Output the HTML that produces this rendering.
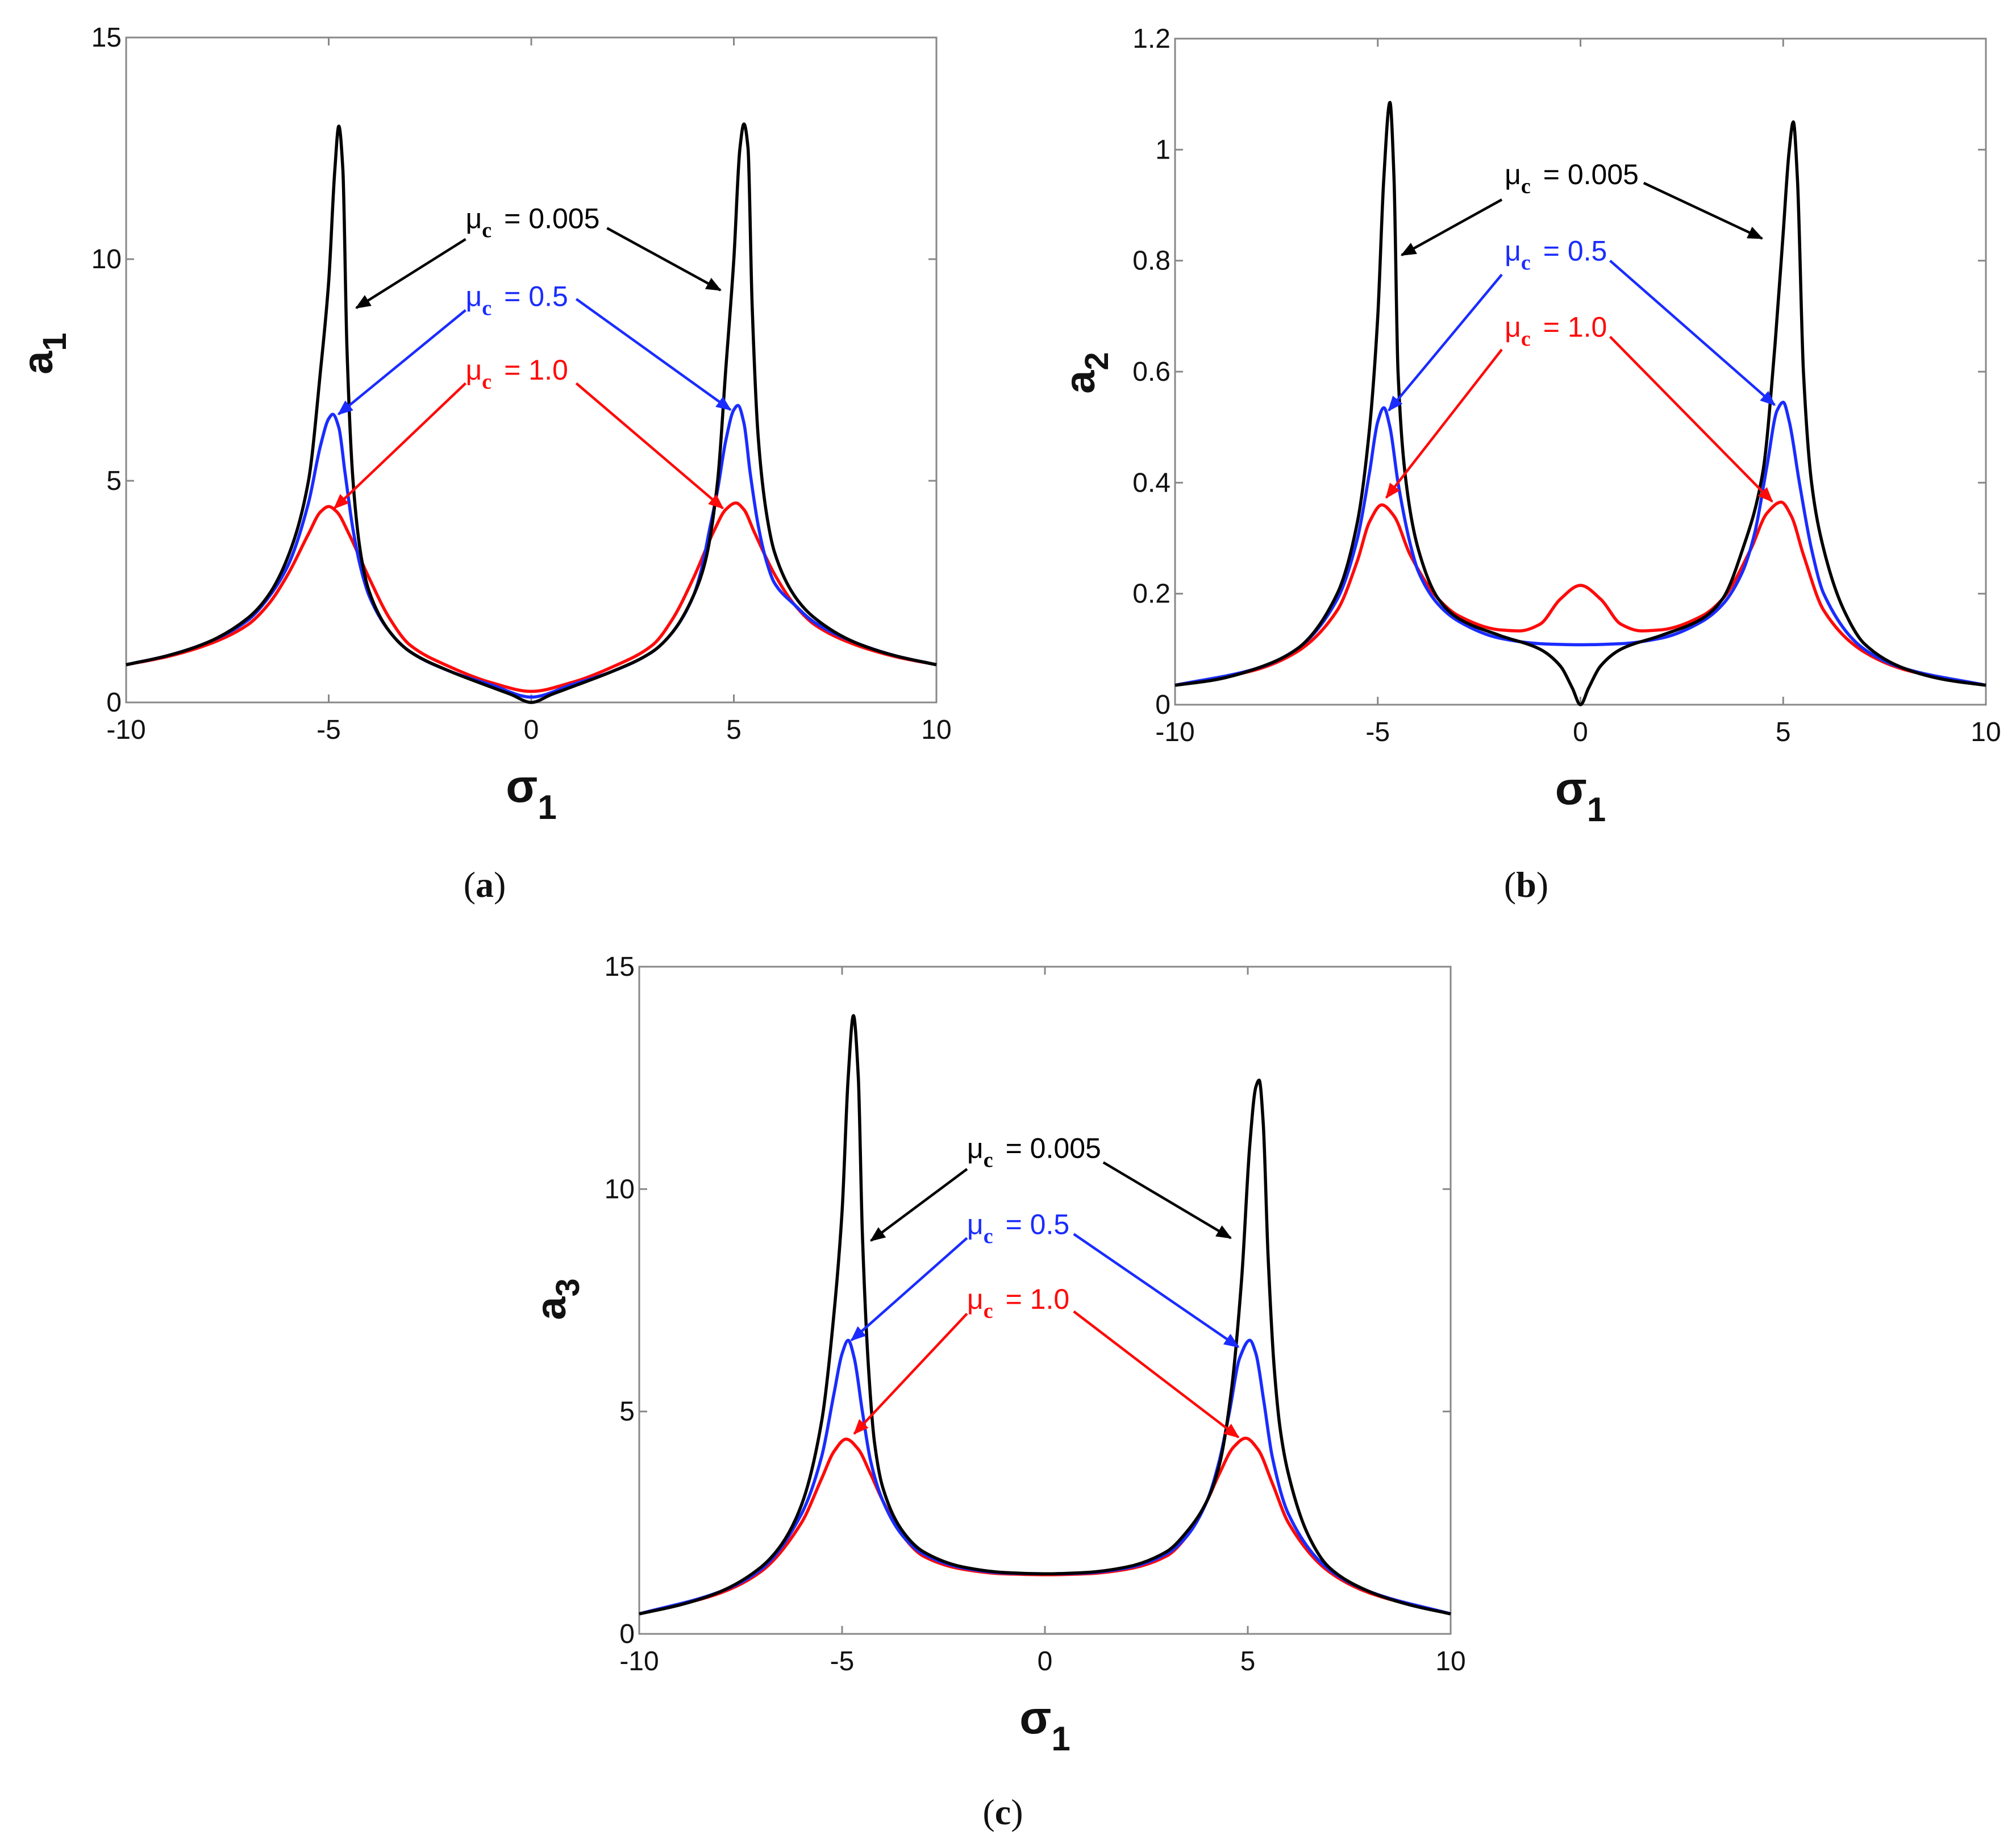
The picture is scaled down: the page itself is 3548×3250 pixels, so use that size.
<!DOCTYPE html>
<html><head><meta charset="utf-8"><style>
html,body{margin:0;padding:0;background:#fff;}
svg{display:block;}
</style></head><body>
<svg id="fig" width="3548" height="3250" viewBox="0 0 3548 3250" xmlns="http://www.w3.org/2000/svg"></svg>
<script>
// ---------- Panel (a) data ----------
const aBlackX=[-10,-9,-8,-7,-6.5,-6,-5.5,-5.2,-5,-4.85,-4.75,-4.65,-4.55,-4.4,-4.2,-4,-3.5,-3,-2,-1,-0.5,0,0.5,1,2,3,3.5,4,4.3,4.6,4.8,5,5.15,5.25,5.35,5.45,5.6,5.8,6,6.5,7,8,9,10];
const aBlackY=[0.85,1.05,1.35,1.9,2.4,3.3,5.0,7.5,9.5,12.0,13.0,12.0,8.0,5.0,3.3,2.5,1.6,1.15,0.7,0.35,0.18,0.0,0.18,0.35,0.7,1.15,1.6,2.4,3.2,5.0,7.5,10,12.5,13.05,12.5,9,6,4.3,3.4,2.4,1.9,1.35,1.05,0.85];
const aBlueX=[-10,-9,-8,-7,-6.5,-6,-5.5,-5.2,-5,-4.9,-4.75,-4.6,-4.4,-4.2,-4,-3.5,-3,-2,-1,0,1,2,3,3.5,4,4.2,4.4,4.6,4.8,5,5.1,5.25,5.4,5.6,5.8,6,6.5,7,8,9,10];
const aBlueY=[0.85,1.05,1.35,1.85,2.35,3.1,4.5,5.8,6.4,6.5,6.2,5.2,3.9,3.0,2.4,1.6,1.15,0.7,0.4,0.12,0.4,0.7,1.15,1.6,2.4,3.0,3.9,4.8,5.9,6.6,6.7,6.3,5.2,4.0,3.2,2.7,2.2,1.8,1.35,1.05,0.85];
const aRedX=[-10,-9,-8,-7,-6.5,-6,-5.5,-5.2,-5,-4.8,-4.5,-4,-3.5,-3,-2,-1,0,1,2,3,3.5,4,4.5,4.8,5.05,5.25,5.5,6,6.5,7,8,9,10];
const aRedY=[0.85,1.03,1.3,1.75,2.2,2.9,3.8,4.3,4.42,4.3,3.8,2.8,1.9,1.3,0.8,0.45,0.25,0.45,0.8,1.3,1.9,2.8,3.85,4.35,4.5,4.35,3.85,2.9,2.2,1.75,1.3,1.03,0.85];
// ---------- Panel (b) data ----------
const bBlackX=[-10,-9,-8,-7,-6,-5.5,-5.2,-5,-4.85,-4.7,-4.6,-4.5,-4.3,-4,-3.5,-3,-2,-1,-0.5,-0.2,0,0.2,0.5,1,2,3,3.5,4,4.5,4.8,5,5.15,5.25,5.35,5.5,5.7,6,6.5,7,8,9,10];
const bBlackY=[0.035,0.045,0.065,0.1,0.2,0.33,0.5,0.7,0.95,1.085,0.95,0.6,0.4,0.28,0.19,0.155,0.125,0.1,0.07,0.03,0,0.03,0.07,0.1,0.125,0.155,0.19,0.28,0.42,0.65,0.85,1.0,1.05,0.95,0.6,0.4,0.28,0.17,0.11,0.065,0.045,0.035];
const bBlueX=[-10,-8,-7,-6,-5.5,-5.2,-5,-4.85,-4.7,-4.5,-4.2,-4,-3.5,-3,-2,-1,0,1,2,3,3.5,4,4.3,4.6,4.85,5,5.15,5.4,5.7,6,7,8,10];
const bBlueY=[0.035,0.065,0.1,0.19,0.3,0.42,0.51,0.535,0.5,0.4,0.29,0.24,0.18,0.15,0.12,0.11,0.108,0.11,0.12,0.15,0.18,0.24,0.31,0.43,0.53,0.545,0.51,0.4,0.28,0.2,0.1,0.065,0.035];
const bRedX=[-10,-8,-7,-6,-5.5,-5.2,-4.9,-4.6,-4.2,-3.5,-3,-2,-1.5,-1,-0.5,0,0.5,1,1.5,2,3,3.5,4.2,4.6,4.95,5.2,5.5,6,7,8,10];
const bRedY=[0.035,0.063,0.095,0.17,0.26,0.33,0.36,0.34,0.27,0.19,0.16,0.135,0.133,0.145,0.19,0.215,0.19,0.145,0.133,0.135,0.16,0.19,0.28,0.345,0.365,0.34,0.27,0.17,0.095,0.063,0.035];
// ---------- Panel (c) data ----------
const cBlackX=[-10,-9,-8,-7,-6.5,-6,-5.5,-5.2,-5,-4.85,-4.72,-4.6,-4.5,-4.35,-4.2,-4,-3.5,-3,-2,-1,0,1,2,3,3.5,4,4.3,4.6,4.85,5.05,5.2,5.28,5.38,5.5,5.65,5.8,6,6.5,7,8,9,10];
const cBlackY=[0.45,0.65,0.95,1.5,2.0,2.9,4.8,7.2,9.5,12.5,13.9,12.5,9,6,4.3,3.3,2.3,1.85,1.5,1.38,1.35,1.38,1.5,1.85,2.3,3.0,3.8,5.5,8,11,12.3,12.45,11.5,8.5,6,4.6,3.6,2.2,1.5,0.95,0.65,0.45];
const cBlueX=[-10,-8,-7,-6,-5.5,-5.2,-5,-4.85,-4.7,-4.5,-4.3,-4,-3.5,-3,-2,-1,0,1,2,3,3.5,4,4.3,4.55,4.8,5.05,5.2,5.4,5.6,6,7,8,10];
const cBlueY=[0.45,0.95,1.45,2.7,4.0,5.4,6.3,6.6,6.2,5.0,3.9,3.0,2.2,1.8,1.48,1.37,1.35,1.37,1.48,1.8,2.2,3.0,3.9,5.0,6.2,6.6,6.3,5.2,4.0,2.7,1.45,0.95,0.45];
const cRedX=[-10,-8,-7,-6,-5.5,-5.2,-4.9,-4.6,-4.3,-4,-3.5,-3,-2,-1,0,1,2,3,3.5,4,4.3,4.65,4.95,5.25,5.6,6,7,8,10];
const cRedY=[0.45,0.92,1.4,2.5,3.5,4.1,4.38,4.15,3.6,3.0,2.2,1.75,1.45,1.35,1.33,1.35,1.45,1.75,2.2,3.0,3.6,4.2,4.4,4.15,3.4,2.5,1.4,0.92,0.45];
// tick labels
const xTicks=[-10,-5,0,5,10];
const yTicksA=[0,5,10,15];
const yTicksB=[0,0.2,0.4,0.6,0.8,1,1.2];
const yTicksC=[0,5,10,15];
const yTickLabelsB=["0","0.2","0.4","0.6","0.8","1","1.2"];
const labelTexts=["= 0.005","= 0.5","= 1.0"];

const NS="http://www.w3.org/2000/svg";
const svg=document.getElementById('fig');
function mk(tag,attrs,parent){const e=document.createElementNS(NS,tag);for(const k in attrs)e.setAttribute(k,attrs[k]);(parent||svg).appendChild(e);return e;}
const defs=mk('defs',{});
[['k','#000'],['b','#1a2cff'],['r','#ff0a0a']].forEach(([id,c])=>{
  const m=mk('marker',{id:'ah'+id,markerWidth:'6',markerHeight:'5',refX:'5.5',refY:'2.5',orient:'auto',markerUnits:'strokeWidth'},defs);
  mk('path',{d:'M0,0 L6,2.5 L0,5 Z',fill:c},m);
});
const COL={k:'#000',b:'#1a2cff',r:'#ff0a0a'};
const TF='"Liberation Sans Narrow","Liberation Sans",sans-serif';

// monotone cubic (Fritsch-Carlson) path through pixel points
function monoPath(pts){
  const n=pts.length,dx=[],m=[],t=new Array(n);
  for(let i=0;i<n-1;i++){dx[i]=pts[i+1][0]-pts[i][0];m[i]=(pts[i+1][1]-pts[i][1])/dx[i];}
  t[0]=m[0];t[n-1]=m[n-2];
  for(let i=1;i<n-1;i++){
    if(m[i-1]*m[i]<=0)t[i]=0;
    else{const w1=2*dx[i]+dx[i-1],w2=dx[i]+2*dx[i-1];t[i]=(w1+w2)/(w1/m[i-1]+w2/m[i]);}
  }
  let d='M'+pts[0][0].toFixed(1)+','+pts[0][1].toFixed(1);
  for(let i=0;i<n-1;i++){
    const h=dx[i]/3;
    d+=' C'+(pts[i][0]+h).toFixed(1)+','+(pts[i][1]+t[i]*h).toFixed(1)+' '+(pts[i+1][0]-h).toFixed(1)+','+(pts[i+1][1]-t[i+1]*h).toFixed(1)+' '+pts[i+1][0].toFixed(1)+','+pts[i+1][1].toFixed(1);
  }
  return d;
}

function panel(p){
  const g=mk('g',{});
  
  
  const sx=x=>p.x0+(x+10)/20*(p.x1-p.x0);
  const sy=y=>p.y1-(y-p.ymin)/(p.ymax-p.ymin)*(p.y1-p.y0);
  const box=mk('rect',{x:p.x0,y:p.y0,width:p.x1-p.x0,height:p.y1-p.y0,fill:'none',stroke:'#888',"stroke-width":3},g);
  
  
  xTicks.forEach(t=>{
    const X=sx(t);
    mk('line',{x1:X,y1:p.y1,x2:X,y2:p.y1-14,stroke:'#888','stroke-width':3},g);
    mk('line',{x1:X,y1:p.y0,x2:X,y2:p.y0+14,stroke:'#888','stroke-width':3},g);
    const tx=mk('text',{x:X,y:p.y1+64,'font-size':48,'font-family':TF,'text-anchor':'middle',fill:'#111'},g);
    tx.textContent=String(t);
    
    
  });
  p.yt.forEach((t,i)=>{
    const Y=sy(t);
    mk('line',{x1:p.x0,y1:Y,x2:p.x0+14,y2:Y,stroke:'#888','stroke-width':3},g);
    mk('line',{x1:p.x1,y1:Y,x2:p.x1-14,y2:Y,stroke:'#888','stroke-width':3},g);
    const tx=mk('text',{x:p.x0-8,y:Y+16,'font-size':48,'font-family':TF,'text-anchor':'end',fill:'#111'},g);
    tx.textContent=p.ytl?p.ytl[i]:String(t);
    
    
  });
  p.series.forEach(s=>{
    const pts=s.x.map((x,i)=>[sx(x),sy(s.y[i])]);
    const path=mk('path',{d:monoPath(pts),fill:'none',stroke:COL[s.c],'stroke-width':5.5,'stroke-linejoin':'round'},g);
    
    
  });
  p.ann.forEach((a,i)=>{
    const c=COL[a.c];
    const t=mk('text',{x:sx(a.lx),y:sy(a.ly),'font-size':50,'font-family':TF,fill:c},g);
    
    
    const s1=mk('tspan',{},t);s1.textContent='μ';
    const s2=mk('tspan',{dy:16,'font-size':38,'font-family':'"Liberation Serif",serif','font-weight':'bold'},t);s2.textContent='c';
    const s3=mk('tspan',{dy:-16,dx:22},t);s3.textContent=labelTexts[i];
    [[a.s1,a.e1],[a.s2,a.e2]].forEach(([s,e])=>{
      const l=mk('line',{x1:sx(s[0]),y1:sy(s[1]),x2:sx(e[0]),y2:sy(e[1]),stroke:c,'stroke-width':4.5,'marker-end':'url(#ah'+a.c+')'},g);
      
      
    });
  });
  const yl=mk('text',{x:0,y:0,'font-size':74,'font-weight':'bold','font-family':'"Liberation Sans",sans-serif',transform:'translate('+p.ylx+','+p.yly+') rotate(-90)','text-anchor':'middle',fill:'#111'},g);
  
  
  const ya=mk('tspan',{},yl);ya.textContent='a';
  const yb=mk('tspan',{dy:24,'font-size':58},yl);yb.textContent=p.sub;
  const xl=mk('text',{x:(p.x0+p.x1)/2,y:p.y1+175,'font-size':82,'font-weight':'bold','font-family':'"Liberation Sans",sans-serif','text-anchor':'middle',fill:'#111'},g);
  
  
  const xa=mk('tspan',{},xl);xa.textContent='σ';
  const xb=mk('tspan',{dy:30,'font-size':60},xl);xb.textContent='1';
  const cap=mk('text',{x:p.capx,y:p.capy,'font-size':64,'font-family':'"Liberation Serif",serif','text-anchor':'middle',fill:'#111'},g);
  
  
  const c1=mk('tspan',{},cap);c1.textContent='(';
  const c2=mk('tspan',{'font-weight':'bold'},cap);c2.textContent=p.id;
  const c3=mk('tspan',{},cap);c3.textContent=')';
}
const annA=[
 {c:'k',lx:-1.62,ly:10.7,s1:[-1.62,10.45],e1:[-4.32,8.9],s2:[1.87,10.7],e2:[4.67,9.3]},
 {c:'b',lx:-1.62,ly:8.94,s1:[-1.62,8.85],e1:[-4.76,6.5],s2:[1.11,9.1],e2:[4.92,6.6]},
 {c:'r',lx:-1.62,ly:7.28,s1:[-1.62,7.2],e1:[-4.86,4.38],s2:[1.11,7.2],e2:[4.73,4.38]}];
const annB=[
 {c:'k',lx:-1.87,ly:0.938,s1:[-1.94,0.91],e1:[-4.41,0.81],s2:[1.56,0.94],e2:[4.48,0.84]},
 {c:'b',lx:-1.87,ly:0.80,s1:[-1.94,0.775],e1:[-4.73,0.53],s2:[0.73,0.80],e2:[4.79,0.54]},
 {c:'r',lx:-1.87,ly:0.663,s1:[-1.94,0.64],e1:[-4.79,0.373],s2:[0.73,0.663],e2:[4.73,0.366]}];
const annC=[
 {c:'k',lx:-1.92,ly:10.7,s1:[-1.92,10.45],e1:[-4.29,8.84],s2:[1.44,10.6],e2:[4.58,8.9]},
 {c:'b',lx:-1.92,ly:8.99,s1:[-1.92,8.9],e1:[-4.77,6.6],s2:[0.71,8.99],e2:[4.77,6.45]},
 {c:'r',lx:-1.92,ly:7.31,s1:[-1.92,7.2],e1:[-4.7,4.5],s2:[0.71,7.25],e2:[4.77,4.42]}];
panel({id:'a',x0:222,x1:1648,y0:66,y1:1236,ymin:0,ymax:15,yt:yTicksA,sub:'1',ylx:92,yly:622,capx:853,capy:1578,ann:annA,
 series:[{name:'mu-1.0',c:'r',x:aRedX,y:aRedY},{name:'mu-0.5',c:'b',x:aBlueX,y:aBlueY},{name:'mu-0.005',c:'k',x:aBlackX,y:aBlackY}]});
panel({id:'b',x0:2068,x1:3495,y0:68,y1:1240,ymin:0,ymax:1.2,yt:yTicksB,ytl:yTickLabelsB,sub:'2',ylx:1926,yly:656,capx:2686,capy:1578,ann:annB,
 series:[{name:'mu-1.0',c:'r',x:bRedX,y:bRedY},{name:'mu-0.5',c:'b',x:bBlueX,y:bBlueY},{name:'mu-0.005',c:'k',x:bBlackX,y:bBlackY}]});
panel({id:'c',x0:1125,x1:2553,y0:1701,y1:2875,ymin:0,ymax:15,yt:yTicksC,sub:'3',ylx:995,yly:2286,capx:1765,capy:3210,ann:annC,
 series:[{name:'mu-1.0',c:'r',x:cRedX,y:cRedY},{name:'mu-0.5',c:'b',x:cBlueX,y:cBlueY},{name:'mu-0.005',c:'k',x:cBlackX,y:cBlackY}]});
</script>
</body></html>
